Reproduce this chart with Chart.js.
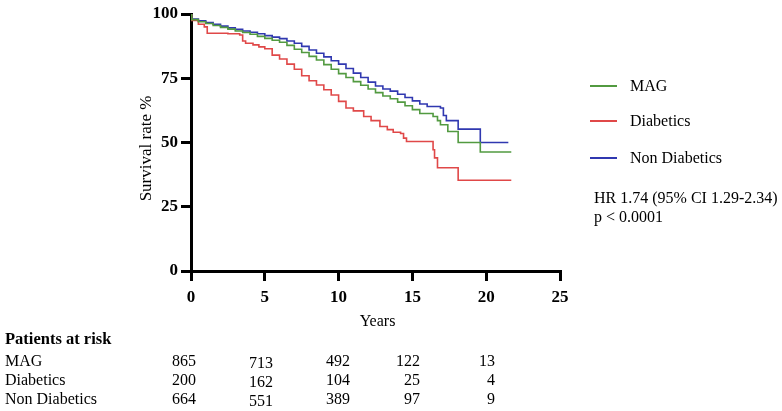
<!DOCTYPE html>
<html>
<head>
<meta charset="utf-8">
<script src="https://cdn.jsdelivr.net/npm/chart.js@4.4.1/dist/chart.umd.min.js"></script>
<style>
  body { margin: 0; background: #fff; }
  #wrap { position: relative; width: 782px; height: 411px; overflow: hidden; font-family: "Liberation Serif", serif; color: #000; }
  #survChart { position: absolute; left: 0; top: 0; }
  .lg-line { position: absolute; left: 590px; width: 27px; height: 2px; }
  .lg-text { position: absolute; left: 630px; font-size: 16px; line-height: 18px; }
  .note { position: absolute; left: 594px; font-size: 16px; line-height: 19px; white-space: nowrap; }
  .risk-head { position: absolute; left: 5px; top: 329px; font-size: 16.5px; font-weight: bold; }
  .risk-label { position: absolute; left: 5px; font-size: 16px; }
  .risk-num { position: absolute; width: 40px; text-align: right; font-size: 16px; }
</style>
</head>
<body>
<div id="wrap">
  <canvas id="survChart" width="782" height="411"></canvas>
  <div id="legend"></div>
  <div class="note" style="top:188px">HR 1.74 (95% CI 1.29-2.34)</div>
  <div class="note" style="top:207px">p &lt; 0.0001</div>
  <div class="risk-head">Patients at risk</div>
  <div id="riskTable"></div>
</div>
<script>
  "use strict";

  // ============================================
  // DATA
  // ============================================
  var seriesNames = ["MAG", "Diabetics", "Non Diabetics"];
  var seriesColors = ["#529a40", "#e04848", "#3038b0"];

  var magYears = [0, 0.05, 0.5, 1, 1.5, 2, 2.5, 3, 3.5, 4, 4.5, 5, 5.5, 6, 6.5, 7, 7.5, 8, 8.5, 9,
    9.5, 10, 10.5, 11, 11.5, 12, 12.5, 13, 13.5, 14, 14.5, 15, 15.5, 16.4, 16.7, 16.9, 17.4, 18.1, 19.6, 21.7];
  var magSurv = [100, 97.8, 97, 96.3, 95.5, 94.8, 94.1, 93.4, 92.8, 92.1, 91.3, 90.5, 89.8, 89, 87.8, 86.3, 85, 83.5, 82.1, 80.3,
    78.5, 76.8, 75.3, 73.7, 72.3, 70.8, 69.4, 68.1, 67, 65.7, 64.3, 62.8, 61.3, 60.1, 58.5, 56.9, 54.3, 50, 46.3, 46.3];

  var diabYears = [0, 0.05, 0.5, 0.9, 1.1, 2.5, 3.3, 3.5, 3.7, 4.2, 4.6, 5, 5.5, 6, 6.5, 7, 7.5, 8, 8.5, 9,
    9.5, 10, 10.5, 11, 11.7, 12.2, 12.8, 13.3, 13.7, 14.2, 14.4, 14.6, 16.4, 16.5, 16.7, 18.1, 21.7];
  var diabSurv = [100, 97.5, 96, 95, 92.5, 92.3, 91.8, 89.5, 88.6, 88, 87.2, 86.5, 84, 82.5, 80.5, 78.5, 76, 74, 72.4, 70.5,
    68.5, 66, 63.4, 62.3, 60.1, 58.5, 56.2, 55, 54, 53.5, 51.7, 50.4, 47.2, 44, 40.2, 35.3, 35.3];

  var nonDiabYears = [0, 0.05, 0.5, 1, 1.5, 2, 2.5, 3, 3.5, 4, 4.5, 5, 5.5, 6, 6.5, 7, 7.5, 8, 8.5, 9,
    9.5, 10, 10.5, 11, 11.5, 12, 12.5, 13, 13.5, 14, 14.5, 15, 15.5, 16, 16.9, 17.1, 17.3, 18.1, 19.6, 21.5];
  var nonDiabSurv = [100, 98, 97.4, 96.7, 96, 95.3, 94.6, 94, 93.4, 92.9, 92.3, 91.6, 91, 90.4, 89.5, 88.6, 87.4, 86, 84.7, 83.3,
    81.8, 80.5, 78.8, 77, 75.3, 73.5, 72, 70.8, 70, 68.8, 67.5, 66.2, 65, 64, 63.4, 60.5, 58.5, 55.2, 50, 50];

  var xTicks = [0, 5, 10, 15, 20, 25];
  var yTicks = [0, 25, 50, 75, 100];

  var riskMag = [865, 713, 492, 122, 13];
  var riskDiab = [200, 162, 104, 25, 4];
  var riskNonDiab = [664, 551, 389, 97, 9];

  function toPoints(xs, ys) {
    return xs.map(function (x, i) {
      return { x: x, y: ys[i] };
    });
  }

  var seriesData = [
    toPoints(magYears, magSurv),
    toPoints(diabYears, diabSurv),
    toPoints(nonDiabYears, nonDiabSurv),
  ];

  // ============================================
  // LEGEND + PATIENTS AT RISK (html text)
  // ============================================
  var legendTops = [77, 112, 149];
  var legendHtml = "";
  seriesNames.forEach(function (name, i) {
    legendHtml +=
      '<div class="lg-line" style="top:' + (legendTops[i] + 8) + "px;background:" + seriesColors[i] + '"></div>' +
      '<div class="lg-text" style="top:' + legendTops[i] + 'px">' + name + "</div>";
  });
  document.getElementById("legend").innerHTML = legendHtml;

  var riskRows = [riskMag, riskDiab, riskNonDiab];
  var rowTops = [352, 371, 390];
  var colRights = [196, 273, 350, 420, 495];
  var colShift = [0, 2, 0, 0, 0];
  var tableHtml = "";
  riskRows.forEach(function (row, r) {
    tableHtml += '<div class="risk-label" style="top:' + rowTops[r] + 'px">' + seriesNames[r] + "</div>";
    row.forEach(function (n, c) {
      tableHtml +=
        '<div class="risk-num" style="top:' + (rowTops[r] + colShift[c]) + "px;left:" + (colRights[c] - 40) + 'px">' + n + "</div>";
    });
  });
  document.getElementById("riskTable").innerHTML = tableHtml;

  // ============================================
  // AXIS TITLES (drawn next to the chart area)
  // ============================================
  var axisTitles = {
    id: "axisTitles",
    afterDraw: function (chart) {
      var ctx = chart.ctx;
      var area = chart.chartArea;
      ctx.save();
      ctx.fillStyle = "#000";
      ctx.textAlign = "center";
      ctx.textBaseline = "middle";
      ctx.font = '16px "Liberation Serif"';
      ctx.fillText("Years", (area.left + area.right) / 2 + 2, 322);
      ctx.font = '17px "Liberation Serif"';
      ctx.translate(147, (area.top + area.bottom) / 2 + 6);
      ctx.rotate(-Math.PI / 2);
      ctx.fillText("Survival rate %", 0, 0);
      ctx.restore();
    },
  };

  var tickFont = { family: "Liberation Serif", size: 17, weight: "bold" };

  new Chart(document.getElementById("survChart"), {
    type: "line",
    data: {
      datasets: seriesNames.map(function (name, i) {
        return {
          label: name,
          data: seriesData[i],
          borderColor: seriesColors[i],
          borderWidth: 1.6,
          stepped: true,
          pointRadius: 0,
          fill: false,
        };
      }),
    },
    options: {
      responsive: false,
      animation: false,
      layout: { padding: { left: 0, top: 14, right: 222, bottom: 0 } },
      plugins: { legend: { display: false }, tooltip: { enabled: false } },
      scales: {
        x: {
          type: "linear",
          min: 0,
          max: 25,
          afterFit: function (scale) {
            scale.height = 140;
          },
          afterBuildTicks: function (scale) {
            scale.ticks = xTicks.map(function (v) {
              return { value: v };
            });
          },
          ticks: { font: tickFont, color: "#000", padding: 6 },
          grid: { drawOnChartArea: false, tickLength: 10, color: "#000", lineWidth: 3 },
          border: { color: "#000", width: 3 },
        },
        y: {
          min: 0,
          max: 100,
          afterFit: function (scale) {
            scale.width = 191;
          },
          afterBuildTicks: function (scale) {
            scale.ticks = yTicks.map(function (v) {
              return { value: v };
            });
          },
          ticks: { font: tickFont, color: "#000", padding: 3 },
          grid: { drawOnChartArea: false, tickLength: 10, color: "#000", lineWidth: 3 },
          border: { color: "#000", width: 3 },
        },
      },
    },
    plugins: [axisTitles],
  });
</script>
</body>
</html>
